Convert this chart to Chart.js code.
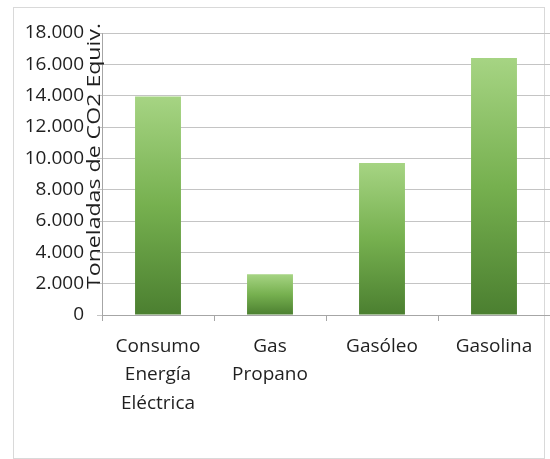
<!DOCTYPE html>
<html>
<head>
<meta charset="utf-8">
<script src="https://cdn.jsdelivr.net/npm/chart.js@4.4.0/dist/chart.umd.min.js"></script>
<style>
  body { margin: 0; background: #fff; }
  #wrap { position: relative; width: 550px; height: 459px; }
  #frame { position: absolute; left: 13px; top: 7px; width: 532px; height: 452px; border: 1px solid #d9d9d9; box-sizing: border-box; }
  canvas { position: absolute; left: 0; top: 0; }
</style>
</head>
<body>
<div id="wrap">
  <div id="frame"></div>
  <canvas id="myChart" width="550" height="459"></canvas>
</div>
<script>
let categories = [['Consumo', 'Energía', 'Eléctrica'], ['Gas', 'Propano'], 'Gasóleo', 'Gasolina'];
let emissions = [13950, 2600, 9700, 16400];
let yTickLabels = ['0', '2.000', '4.000', '6.000', '8.000', '10.000', '12.000', '14.000', '16.000', '18.000'];
let yTitle = 'Toneladas de CO2 Equiv.';

let font = 'Open Sans';

// bar fill: light green at the top of each bar, dark green at its base
function barGradient(context) {
    let chart = context.chart;
    let y = chart.scales.y;
    if (!y || context.raw === undefined) return '#6aa84f';
    let top = y.getPixelForValue(context.raw);
    let bottom = y.getPixelForValue(0);
    if (!isFinite(top) || !isFinite(bottom)) return '#6aa84f';
    let g = chart.ctx.createLinearGradient(0, top, 0, bottom);
    g.addColorStop(0, '#a6d483');
    g.addColorStop(0.5, '#76b04f');
    g.addColorStop(1, '#4b7f30');
    return g;
}

// the axis title sits over the tick labels, as in the original
const yTitlePlugin = {
    id: 'yTitle',
    afterDraw(chart) {
        let ctx = chart.ctx;
        ctx.save();
        ctx.translate(95, 156);
        ctx.rotate(-Math.PI / 2);
        ctx.font = '19px "' + font + '"';
        let w = ctx.measureText(yTitle).width;
        ctx.scale(266 / w, 1);
        ctx.fillStyle = '#1f1f1f';
        ctx.textAlign = 'center';
        ctx.textBaseline = 'middle';
        ctx.fillText(yTitle, 0, 0);
        ctx.restore();
    }
};

let ctx = document.getElementById('myChart').getContext('2d');

new Chart(ctx, {
    type: 'bar',
    data: {
        labels: categories,
        datasets: [{
            data: emissions,
            backgroundColor: barGradient,
            borderWidth: 0,
            categoryPercentage: 1,
            barPercentage: 0.41
        }]
    },
    options: {
        responsive: false,
        animation: false,
        layout: { padding: { top: 33, right: 0, left: 0, bottom: 0 } },
        plugins: {
            legend: { display: false },
            tooltip: { enabled: false }
        },
        scales: {
            x: {
                offset: true,
                grid: { offset: true, drawOnChartArea: false, tickLength: 6, color: '#a6a6a6' },
                border: { color: '#a6a6a6' },
                ticks: {
                    font: { family: font, size: 19, lineHeight: 1.5 },
                    color: '#1f1f1f',
                    maxRotation: 0,
                    padding: 11
                },
                afterFit(scale) { scale.height = 144; }
            },
            y: {
                min: 0,
                max: 18000,
                ticks: {
                    stepSize: 2000,
                    font: { family: font, size: 19 },
                    color: '#1f1f1f',
                    padding: 13,
                    callback: (value, i) => yTickLabels[i]
                },
                grid: { color: '#c4c4c4', tickLength: 5 },
                border: { color: '#a6a6a6' },
                afterFit(scale) { scale.width = 102; }
            }
        }
    },
    plugins: [yTitlePlugin]
});
</script>
</body>
</html>
